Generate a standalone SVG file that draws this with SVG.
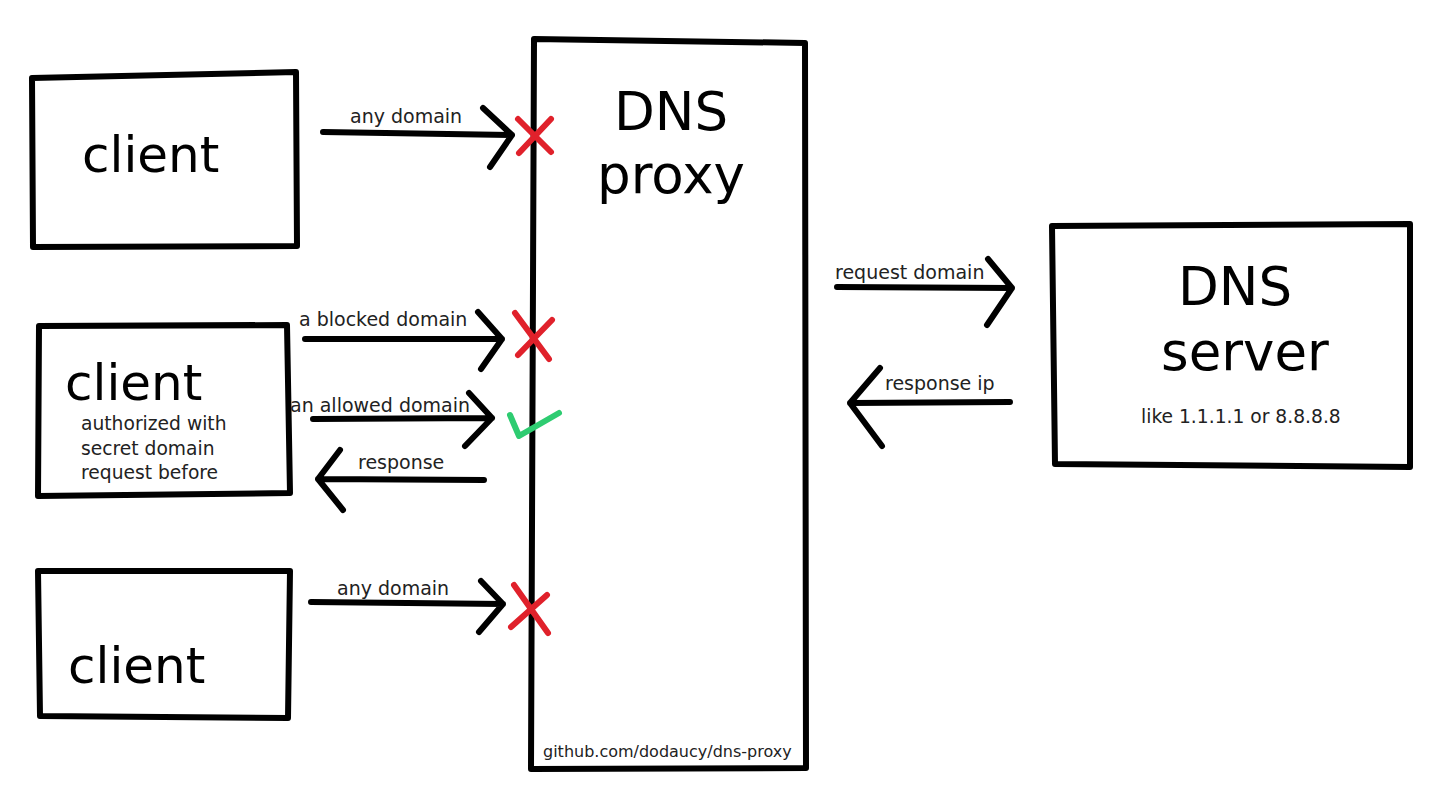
<svg xmlns="http://www.w3.org/2000/svg" width="1453" height="810" viewBox="0 0 1453 810">
<style>
.box{fill:none;stroke:#000;stroke-width:6;stroke-linejoin:round;stroke-linecap:round}
.ln{fill:none;stroke:#000;stroke-width:6;stroke-linecap:round;stroke-linejoin:round}
.x{fill:none;stroke:#e0212b;stroke-width:6;stroke-linecap:round}
.ok{fill:none;stroke:#2ecc71;stroke-width:6;stroke-linecap:round;stroke-linejoin:round}
text{font-family:"DejaVu Sans",Verdana,sans-serif;fill:#000}
.big{font-size:53px}
.cl{font-size:50px}
.sm{font-size:18.7px;fill:#222}
.lbl{font-size:19px;fill:#222}
.ft{font-size:16px;fill:#222}
</style>
<rect width="1453" height="810" fill="#fff"/>
<g id="client1">
<path class="box" d="M32,78 L296,72 L297,246 L33,247 Z"/>
<text class="cl" x="82" y="172">client</text>
</g>
<g id="client2">
<path class="box" d="M39,326 L287,325 L290,493 L38,496 Z"/>
<text class="cl" x="65" y="400">client</text>
<text class="sm" x="81" y="430">authorized with</text>
<text class="sm" x="81" y="455">secret domain</text>
<text class="sm" x="81" y="479">request before</text>
</g>
<g id="client3">
<path class="box" d="M38,571 L290,571 L288,718 L40,716 Z"/>
<text class="cl" x="68" y="683">client</text>
</g>
<g id="proxy">
<path class="box" d="M534,39 L805,43 L806,768 L531,769 Z"/>
<text class="big" x="671" y="130" text-anchor="middle">DNS</text>
<text class="big" x="671" y="193" text-anchor="middle">proxy</text>
<text class="ft" x="543" y="757">github.com/dodaucy/dns-proxy</text>
</g>
<g id="dnsserver">
<path class="box" d="M1052,226 L1410,224 L1410,467 L1055,464 Z"/>
<text class="big" x="1235" y="305" text-anchor="middle">DNS</text>
<text class="big" x="1245" y="370" text-anchor="middle">server</text>
<text class="sm" x="1141" y="423">like 1.1.1.1 or 8.8.8.8</text>
</g>
<g id="connectors">
<path class="ln" d="M323,132 L512,135 M483,108 L512,135 L490,167"/>
<text class="lbl" x="350" y="123">any domain</text>
<path class="x" d="M518,119 L551,152 M551,119 L519,153"/>

<path class="ln" d="M305,339 L502,339 M478,312 L502,339 L481,369"/>
<text class="lbl" x="299" y="326">a blocked domain</text>
<path class="x" d="M515,313 L549,359 M552,320 L518,355"/>

<path class="ln" d="M313,419 L492,418 M469,393 L492,418 L465,446"/>
<text class="lbl" x="290" y="412">an allowed domain</text>
<path class="ok" d="M510,415 L519,436 L559,413"/>

<path class="ln" d="M484,480 L318,479 M340,450 L318,479 L343,510"/>
<text class="lbl" x="358" y="469">response</text>

<path class="ln" d="M311,602 L503,604 M481,581 L503,604 L479,632"/>
<text class="lbl" x="337" y="595">any domain</text>
<path class="x" d="M514,585 L548,633 M547,595 L511,627"/>

<path class="ln" d="M837,287 L1012,288 M988,259 L1012,288 L987,325"/>
<text class="lbl" x="835" y="279">request domain</text>

<path class="ln" d="M1010,402 L850,403 M880,368 L850,403 L882,446"/>
<text class="lbl" x="885" y="390">response ip</text>
</g>
</svg>
